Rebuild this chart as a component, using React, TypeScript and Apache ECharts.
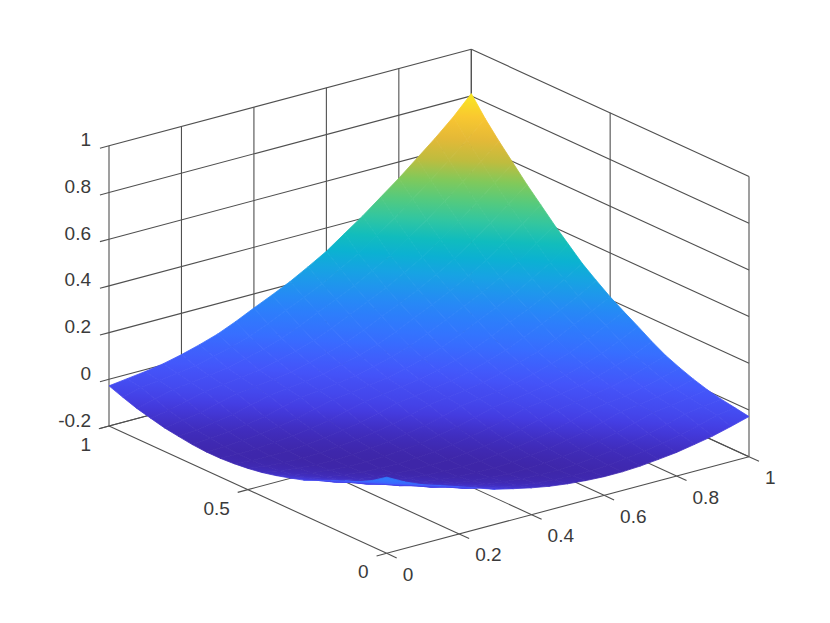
import React, { useEffect, useRef } from "react";
import * as echarts from "echarts";

const xTicks = [0, 0.2, 0.4, 0.6, 0.8, 1];
const yTicks = [0, 0.5, 1];
const zTicks = [-0.2, 0, 0.2, 0.4, 0.6, 0.8, 1];
const GRID_SIZE = 20;

// surface heights in thousandths, one row per y step (0 to 1), one column per x step (0 to 1)
const zRows: number[][] = [
  [126, 85, 52, 28, 2, -24, -50, -68, -85, -99, -109, -116, -120, -120, -116, -108, -99, -85, -70, -50, -28],
  [85, 51, 27, 1, -26, -52, -70, -88, -102, -112, -119, -123, -123, -119, -110, -101, -87, -71, -51, -29, -18],
  [52, 27, 0, -27, -54, -72, -90, -104, -114, -121, -125, -125, -121, -113, -104, -89, -74, -53, -30, -19, -8],
  [28, 1, -27, -54, -73, -91, -106, -116, -123, -128, -128, -124, -115, -106, -92, -76, -55, -32, -21, -9, 5],
  [2, -26, -54, -73, -91, -106, -117, -125, -129, -130, -126, -118, -108, -94, -78, -57, -34, -23, -12, 3, 23],
  [-24, -52, -72, -91, -106, -117, -125, -130, -131, -127, -119, -110, -96, -80, -59, -36, -25, -14, 1, 21, 45],
  [-50, -70, -90, -106, -117, -125, -131, -131, -128, -120, -112, -97, -82, -61, -39, -27, -16, -2, 18, 43, 70],
  [-68, -88, -104, -116, -125, -130, -131, -128, -121, -112, -99, -83, -63, -40, -29, -18, -4, 16, 40, 67, 103],
  [-85, -102, -114, -123, -129, -131, -128, -121, -113, -99, -84, -64, -42, -31, -20, -6, 14, 38, 65, 100, 140],
  [-99, -112, -121, -128, -130, -127, -120, -112, -99, -84, -65, -42, -32, -21, -7, 12, 35, 62, 98, 137, 175],
  [-109, -119, -125, -128, -126, -119, -112, -99, -84, -65, -43, -33, -22, -9, 10, 34, 60, 95, 135, 172, 212],
  [-116, -123, -125, -124, -118, -110, -97, -83, -64, -42, -33, -22, -9, 10, 33, 59, 93, 132, 170, 209, 255],
  [-120, -123, -121, -115, -108, -96, -82, -63, -42, -32, -22, -9, 9, 32, 58, 92, 131, 168, 207, 252, 300],
  [-120, -119, -113, -106, -94, -80, -61, -40, -31, -21, -9, 10, 32, 58, 92, 130, 166, 205, 250, 297, 355],
  [-116, -110, -104, -92, -78, -59, -39, -29, -20, -7, 10, 33, 58, 92, 129, 166, 204, 248, 295, 353, 410],
  [-108, -101, -89, -76, -57, -36, -27, -18, -6, 12, 34, 59, 92, 130, 166, 204, 248, 294, 351, 408, 470],
  [-99, -87, -74, -55, -34, -25, -16, -4, 14, 35, 60, 93, 131, 166, 204, 248, 294, 350, 406, 468, 530],
  [-85, -71, -53, -32, -23, -14, -2, 16, 38, 62, 95, 132, 168, 205, 248, 294, 350, 406, 467, 529, 595],
  [-70, -51, -30, -21, -12, 1, 18, 40, 65, 98, 135, 170, 207, 250, 295, 351, 406, 467, 528, 594, 660],
  [-50, -29, -19, -9, 3, 21, 43, 67, 100, 137, 172, 209, 252, 297, 353, 408, 468, 529, 594, 659, 730],
  [-28, -18, -8, 5, 23, 45, 70, 103, 140, 175, 212, 255, 300, 355, 410, 470, 530, 595, 660, 730, 810],
];

// colour by height
const colorStops: number[][] = [
  [-0.128, 62, 38, 168],
  [-0.1, 64, 45, 190],
  [-0.06, 68, 60, 225],
  [0, 68, 85, 250],
  [0.07, 55, 110, 255],
  [0.15, 42, 130, 250],
  [0.24, 25, 160, 230],
  [0.33, 5, 185, 200],
  [0.41, 50, 198, 160],
  [0.515, 110, 205, 100],
  [0.575, 180, 190, 65],
  [0.635, 215, 185, 55],
  [0.71, 250, 185, 55],
  [0.77, 247, 222, 38],
  [0.82, 250, 235, 30],
];

const ZMIN = -0.2;
const ZMAX = 1;

// orthographic view of the box, in page pixels
const ORIGIN = [386.7, 553.3];
const XVEC = [362.3, -96.6];
const YVEC = [-277.7, -127.3];
const ZUNIT = 233.5;

function project(x: number, y: number, z: number): number[] {
  return [
    ORIGIN[0] + XVEC[0] * x + YVEC[0] * y,
    ORIGIN[1] + XVEC[1] * x + YVEC[1] * y - ZUNIT * (z - ZMIN),
  ];
}

function colorOf(z: number): string {
  const s = colorStops;
  if (z <= s[0][0]) return `rgb(${s[0][1]},${s[0][2]},${s[0][3]})`;
  for (let k = 1; k < s.length; k++) {
    if (z <= s[k][0]) {
      const t = (z - s[k - 1][0]) / (s[k][0] - s[k - 1][0]);
      const c = [1, 2, 3].map((n) => Math.round(s[k - 1][n] + t * (s[k][n] - s[k - 1][n])));
      return `rgb(${c[0]},${c[1]},${c[2]})`;
    }
  }
  const l = s[s.length - 1];
  return `rgb(${l[1]},${l[2]},${l[3]})`;
}

type Seg = number[];
const gridSegments: Seg[] = [];
xTicks.forEach((x) => {
  gridSegments.push([x, 0, ZMIN, x, 1, ZMIN]);
  gridSegments.push([x, 1, ZMIN, x, 1, ZMAX]);
});
yTicks.forEach((y) => {
  gridSegments.push([0, y, ZMIN, 1, y, ZMIN]);
  gridSegments.push([1, y, ZMIN, 1, y, ZMAX]);
});
zTicks.forEach((z) => {
  gridSegments.push([0, 1, z, 1, 1, z]);
  gridSegments.push([1, 0, z, 1, 1, z]);
});
// axis rulers and their outward ticks
xTicks.forEach((x) => gridSegments.push([x, 0, ZMIN, x, -0.036, ZMIN]));
yTicks.forEach((y) => gridSegments.push([0, y, ZMIN, -0.028, y, ZMIN]));
zTicks.forEach((z) => gridSegments.push([0, 1, z, -0.025, 1, z]));

type Label = { text: string; x: number; y: number; z: number; dx: number; dy: number; align: string };
const labels: Label[] = [
  ...xTicks.map((x) => ({ text: String(x), x, y: 0, z: ZMIN, dx: 16, dy: 21, align: "left" })),
  ...yTicks.map((y) => ({ text: String(y), x: 0, y, z: ZMIN, dx: -18, dy: 18.5, align: "right" })),
  ...zTicks.map((z) => ({ text: String(z), x: 0, y: 1, z, dx: -18, dy: -6, align: "right" })),
];

const cells: number[][] = [];
for (let i = 0; i < GRID_SIZE; i++) {
  for (let j = 0; j < GRID_SIZE; j++) cells.push([j, i]);
}
cells.sort((a, b) => b[0] + b[1] - (a[0] + a[1]));

function renderSegment(params: any, api: any) {
  const s = gridSegments[params.dataIndex];
  const p = api.coord(project(s[0], s[1], s[2]));
  const q = api.coord(project(s[3], s[4], s[5]));
  return {
    type: "line",
    shape: { x1: p[0], y1: p[1], x2: q[0], y2: q[1] },
    style: { stroke: "#505050", lineWidth: 1.1, fill: "none" },
  };
}

function renderLabel(params: any, api: any) {
  const l = labels[params.dataIndex];
  const p = api.coord(project(l.x, l.y, l.z));
  return {
    type: "text",
    x: p[0] + l.dx,
    y: p[1] + l.dy,
    style: {
      text: l.text,
      fill: "#3a3a3a",
      font: "19px 'Liberation Sans', Arial, sans-serif",
      textAlign: l.align,
      textVerticalAlign: "middle",
    },
  };
}

function renderCell(params: any, api: any) {
  const j = api.value(0);
  const i = api.value(1);
  const corners = [
    [j, i],
    [j + 1, i],
    [j + 1, i + 1],
    [j, i + 1],
  ];
  const zs = corners.map((c) => zRows[c[1]][c[0]] / 1000);
  const pts = corners.map((c, k) => api.coord(project(c[0] / GRID_SIZE, c[1] / GRID_SIZE, zs[k])));
  const zc = (zs[0] + zs[1] + zs[2] + zs[3]) / 4;
  const cx = (pts[0][0] + pts[1][0] + pts[2][0] + pts[3][0]) / 4;
  const cy = (pts[0][1] + pts[1][1] + pts[2][1] + pts[3][1]) / 4;
  const d1 = [pts[2][0] - pts[0][0], pts[2][1] - pts[0][1], zs[2] - zs[0]];
  const d2 = [pts[3][0] - pts[1][0], pts[3][1] - pts[1][1], zs[3] - zs[1]];
  const det = d1[0] * d2[1] - d1[1] * d2[0];
  let fill: any = colorOf(zc);
  const zLo = Math.min(...zs);
  const zHi = Math.max(...zs);
  if (Math.abs(det) > 8 && zHi - zLo > 1e-4) {
    const a = (d1[2] * d2[1] - d1[1] * d2[2]) / det;
    const b = (d1[0] * d2[2] - d1[2] * d2[0]) / det;
    const n = a * a + b * b;
    if (n > 1e-12) {
      const x0 = cx + ((zLo - zc) * a) / n;
      const y0 = cy + ((zLo - zc) * b) / n;
      const x1 = cx + ((zHi - zc) * a) / n;
      const y1 = cy + ((zHi - zc) * b) / n;
      fill = new echarts.graphic.LinearGradient(
        x0,
        y0,
        x1,
        y1,
        [
          { offset: 0, color: colorOf(zLo) },
          { offset: 0.5, color: colorOf((zLo + zHi) / 2) },
          { offset: 1, color: colorOf(zHi) },
        ],
        true
      );
    }
  }
  return {
    type: "polygon",
    shape: { points: pts },
    style: { fill, stroke: fill, lineWidth: 0.8, lineJoin: "round" },
  };
}

export default function App() {
  const ref = useRef<HTMLDivElement>(null);
  useEffect(() => {
    if (!ref.current) return;
    const chart = echarts.init(ref.current, undefined, { renderer: "svg" });
    chart.setOption({
      animation: false,
      backgroundColor: "#ffffff",
      grid: { left: 0, right: 0, top: 0, bottom: 0 },
      xAxis: { type: "value", min: 0, max: 830, show: false },
      yAxis: { type: "value", min: 0, max: 623, inverse: true, show: false },
      series: [
        {
          type: "custom",
          name: "grid",
          coordinateSystem: "cartesian2d",
          renderItem: renderSegment,
          data: gridSegments.map((_, k) => [k, k]),
          encode: { x: 0, y: 1 },
          silent: true,
          clip: false,
          z: 1,
        },
        {
          type: "custom",
          name: "surface",
          coordinateSystem: "cartesian2d",
          renderItem: renderCell,
          data: cells,
          encode: { x: 0, y: 1 },
          silent: true,
          clip: false,
          z: 2,
        },
        {
          type: "custom",
          name: "labels",
          coordinateSystem: "cartesian2d",
          renderItem: renderLabel,
          data: labels.map((_, k) => [k, k]),
          encode: { x: 0, y: 1 },
          silent: true,
          clip: false,
          z: 3,
        },
      ],
    });
    return () => chart.dispose();
  }, []);
  return (
    <div
      ref={ref}
      style={{ position: "fixed", left: 0, top: 0, width: 830, height: 623, background: "#fff" }}
    />
  );
}
